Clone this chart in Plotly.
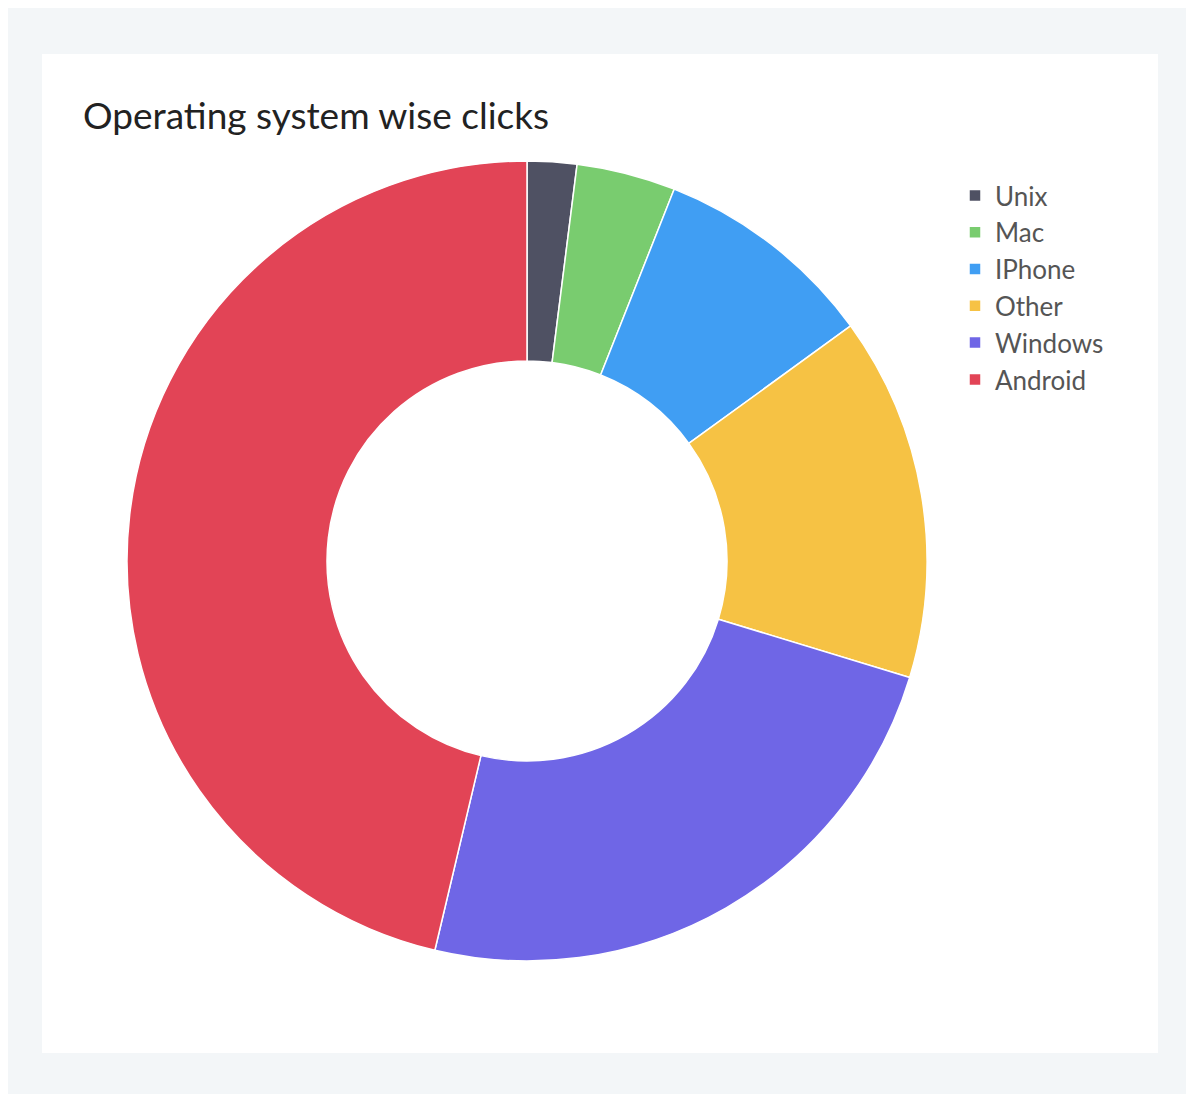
import plotly.graph_objects as go

labels = ["Unix", "Mac", "IPhone", "Other", "Windows", "Android"]
values = [2, 4, 9, 14.7, 24, 46.3]
colors = ["#4f5163", "#79cc6f", "#409ef3", "#f6c244", "#6f66e6", "#e24456"]

O = 8
W, H = 1194 - 2 * O, 1102 - 2 * O
def px(x): return (x - O) / W
def py(y): return 1 - (y - O) / H

fig = go.Figure(go.Pie(
    labels=labels, values=values, hole=0.5, sort=False, direction="clockwise",
    rotation=0, textinfo="none", hoverinfo="label+value",
    marker=dict(colors=colors, line=dict(color="white", width=1.5)),
    domain=dict(x=[px(127), px(927)], y=[py(961), py(161)]),
))
fig.add_shape(type="rect", xref="paper", yref="paper",
              x0=px(42), x1=px(1158), y0=py(1053), y1=py(54),
              fillcolor="white", line=dict(width=0), layer="below")
fig.update_layout(
    width=W, height=H, margin=dict(l=0, r=0, t=0, b=0),
    paper_bgcolor="#f3f6f8", plot_bgcolor="#f3f6f8",
    font=dict(family="Lato, Open Sans, sans-serif"),
    title=dict(text="Operating system wise clicks", x=px(83), y=py(116),
               xanchor="left", yanchor="middle",
               font=dict(size=37, color="#222")),
    legend=dict(x=px(955), y=py(172), xanchor="left", yanchor="top",
                font=dict(size=26, color="#555"), tracegroupgap=0,
                bgcolor="rgba(0,0,0,0)"),
)
fig.write_html("out.html")
